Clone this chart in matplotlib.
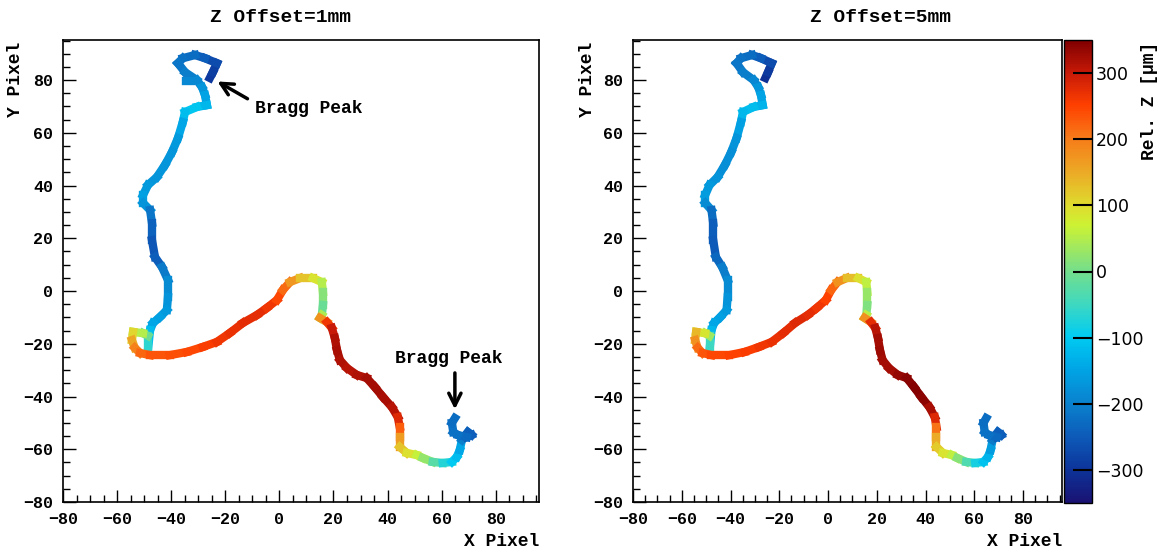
import numpy as np
import matplotlib
matplotlib.use("Agg")
import matplotlib.pyplot as plt
from matplotlib.collections import LineCollection
from matplotlib.colors import LinearSegmentedColormap, Normalize
from matplotlib.cm import ScalarMappable
from matplotlib.ticker import MultipleLocator

# Track waypoints (pixel units), from the top Bragg peak to the bottom one
track_x = [-25.7, -24.6, -23.1, -27.5, -31.2, -35.7, -37.5, -34.9, -30.5, -28.6,
           -27.5, -26.8, -30.5, -34.9, -35.7, -37.5, -39.7, -42.3, -45.3, -48.6,
           -50.4, -50.4, -47.8, -47.1, -47.1, -46.0, -43.4, -41.2, -41.2, -41.6,
           -44.2, -46.7, -47.8, -48.6, -48.6, -50.4, -54.1, -54.5, -53.5, -51.5,
           -47.8, -40.5, -34.2, -28.3, -23.1, -18.3, -13.5, -8.3, -4.6, -0.9,
           1.3, 3.9, 7.6, 12.4, 15.7, 16.1, 16.1, 15.7, 15.0, 17.6,
           19.4, 20.5, 21.3, 22.4, 25.0, 28.6, 32.3, 35.3, 38.3, 41.6,
           43.8, 44.5, 44.5, 44.5, 47.1, 50.8, 53.0, 56.7, 60.4, 63.8,
           65.6, 66.7, 67.5, 69.7, 71.1, 69.3, 66.0, 64.3, 63.8, 64.9]
track_y = [80.8, 83.0, 86.4, 88.3, 89.5, 88.3, 86.4, 83.0, 80.0, 77.3,
           74.3, 70.5, 69.8, 67.9, 64.1, 58.0, 52.7, 47.8, 43.2, 40.2,
           36.4, 33.4, 30.7, 25.8, 19.3, 12.9, 9.1, 4.2, -2.3, -7.2,
           -9.9, -12.1, -14.8, -22.4, -17.0, -16.0, -15.5, -18.6, -21.5, -23.5,
           -24.3, -24.3, -23.1, -21.2, -19.3, -15.9, -12.1, -9.1, -6.4, -3.4,
           0.4, 3.4, 4.9, 4.9, 3.4, -0.4, -5.3, -9.1, -10.2, -11.8,
           -14.0, -17.8, -22.4, -26.2, -29.2, -31.8, -33.0, -36.4, -40.2, -44.0,
           -47.8, -51.6, -55.4, -59.1, -61.4, -62.2, -63.3, -64.8, -65.2, -64.8,
           -62.9, -60.3, -56.5, -53.5, -54.6, -55.4, -54.6, -53.5, -50.0, -48.2]

# Relative Z (um) along the track for each offset
z_1mm = [-300, -290, -280, -260, -230, -220, -220, -210, -200, -180,
         -160, -140, -110, -100, -130, -160, -170, -170, -170, -170,
         -160, -150, -200, -230, -250, -260, -230, -190, -180, -170,
         -160, -150, -140, -100, -30, 20, 80, 130, 180, 210,
         230, 240, 240, 250, 260, 270, 270, 280, 270, 260,
         230, 200, 140, 110, 70, 30, 0, -20, 110, 240,
         290, 310, 320, 320, 310, 310, 320, 330, 320, 320,
         300, 260, 190, 140, 110, 80, 50, 0, -50, -90,
         -110, -130, -160, -240, -250, -240, -220, -220, -220, -230]
z_5mm = [-310, -300, -280, -260, -230, -220, -220, -210, -200, -180,
         -160, -140, -120, -110, -140, -170, -180, -180, -180, -170,
         -160, -160, -210, -240, -250, -250, -220, -190, -180, -170,
         -160, -150, -140, -110, 10, 60, 110, 160, 200, 230,
         240, 250, 250, 260, 270, 270, 280, 280, 270, 260,
         240, 200, 150, 110, 80, 40, 20, 0, 110, 250,
         300, 320, 330, 330, 320, 330, 340, 345, 345, 335,
         310, 250, 170, 130, 100, 80, 40, -10, -60, -100,
         -120, -140, -180, -240, -250, -240, -220, -220, -220, -230]

# detached hit next to the upper loop (1mm only)
stray_x = [-34.5, -32.7]
stray_y = [79.6, 79.6]
stray_z = [-190, -190]

panel_titles = ["Z Offset=1mm", "Z Offset=5mm"]
cbar_ticks = [-300, -200, -100, 0, 100, 200, 300]

# palette
cmap = LinearSegmentedColormap.from_list("relz", [
    (0.00, (0.10, 0.07, 0.45)),
    (0.07, (0.05, 0.20, 0.60)),
    (0.14, (0.05, 0.35, 0.72)),
    (0.21, (0.04, 0.50, 0.80)),
    (0.29, (0.00, 0.65, 0.90)),
    (0.36, (0.00, 0.80, 0.95)),
    (0.43, (0.25, 0.85, 0.75)),
    (0.50, (0.45, 0.87, 0.55)),
    (0.60, (0.80, 0.95, 0.20)),
    (0.64, (0.87, 0.87, 0.18)),
    (0.71, (0.92, 0.68, 0.15)),
    (0.79, (0.97, 0.48, 0.10)),
    (0.86, (1.00, 0.25, 0.00)),
    (0.93, (0.78, 0.10, 0.03)),
    (1.00, (0.50, 0.00, 0.00)),
])
norm = Normalize(vmin=-350, vmax=350)

plt.rcParams["font.family"] = ["Liberation Mono", "DejaVu Sans Mono"]
plt.rcParams["font.weight"] = "bold"

W, H = 1162, 552


def draw_track(ax, xs, ys, zs):
    pts = np.column_stack([xs, ys])
    segs = np.stack([pts[:-1], pts[1:]], axis=1)
    zmid = (np.asarray(zs[:-1]) + np.asarray(zs[1:])) / 2.0
    lc = LineCollection(segs, cmap=cmap, norm=norm, linewidths=6,
                        capstyle="projecting", joinstyle="miter")
    lc.set_array(zmid)
    ax.add_collection(lc)


def style_axes(ax):
    ax.set_xlim(-80, 96)
    ax.set_ylim(-80, 95.2)
    ax.set_xticks(range(-80, 81, 20))
    ax.set_yticks(range(-80, 81, 20))
    ax.xaxis.set_minor_locator(MultipleLocator(5))
    ax.yaxis.set_minor_locator(MultipleLocator(5))
    ax.tick_params(which="major", direction="in", length=9, width=1, labelsize=12, pad=7)
    ax.tick_params(which="minor", direction="in", length=5, width=1)
    for s in ax.spines.values():
        s.set_linewidth(1.2)


fig = plt.figure(figsize=(W / 100, H / 100), dpi=100)
ax1 = fig.add_axes([63 / W, 50 / H, 476 / W, 462 / H])
ax2 = fig.add_axes([633 / W, 50 / H, 429 / W, 462 / H])
cax = fig.add_axes([1064 / W, 49 / H, 28 / W, 463 / H])

draw_track(ax1, track_x, track_y, z_1mm)
draw_track(ax1, stray_x, stray_y, stray_z)
draw_track(ax2, track_x, track_y, z_5mm)

for ax, title, xc, yl, xr in [(ax1, panel_titles[0], 280, 15, 539),
                              (ax2, panel_titles[1], 880, 588, 1062)]:
    style_axes(ax)
    fig.text(xc / W, 1 - 17 / H, title, ha="center", va="center", fontsize=14, weight="bold")
    fig.text(yl / W, 1 - 42 / H, "Y Pixel", rotation=90, ha="center", va="top", fontsize=13, weight="bold")
    fig.text(xr / W, 1 - 541 / H, "X Pixel", ha="right", va="center", fontsize=13, weight="bold")

# Bragg peak markers on the 1mm panel
ax1.annotate("", xy=(-23.8, 80.0), xytext=(-10.9, 72.4),
             arrowprops=dict(arrowstyle="->", lw=2.5, color="black", mutation_scale=22))
ax1.text(-9.0, 69.4, "Bragg Peak", ha="left", va="center", fontsize=13, weight="bold")
ax1.annotate("", xy=(64.9, -45.9), xytext=(64.9, -30.0),
             arrowprops=dict(arrowstyle="->", lw=2.5, color="black", mutation_scale=22))
ax1.text(62.6, -25.4, "Bragg Peak", ha="center", va="center", fontsize=13, weight="bold")

# colour bar
cb = fig.colorbar(ScalarMappable(norm=norm, cmap=cmap), cax=cax, ticks=cbar_ticks)
cb.outline.set_linewidth(1)
cax.tick_params(direction="in", length=14, width=1.5, labelsize=12.5, pad=3)
for lab in cax.get_yticklabels():
    lab.set_family("DejaVu Sans")
    lab.set_weight("normal")
fig.text(1150 / W, 1 - 42 / H, "Rel. Z [\u00b5m]", rotation=90, ha="center", va="top",
         fontsize=13, weight="bold")

fig.savefig("out.png", dpi=100)
plt.close(fig)
